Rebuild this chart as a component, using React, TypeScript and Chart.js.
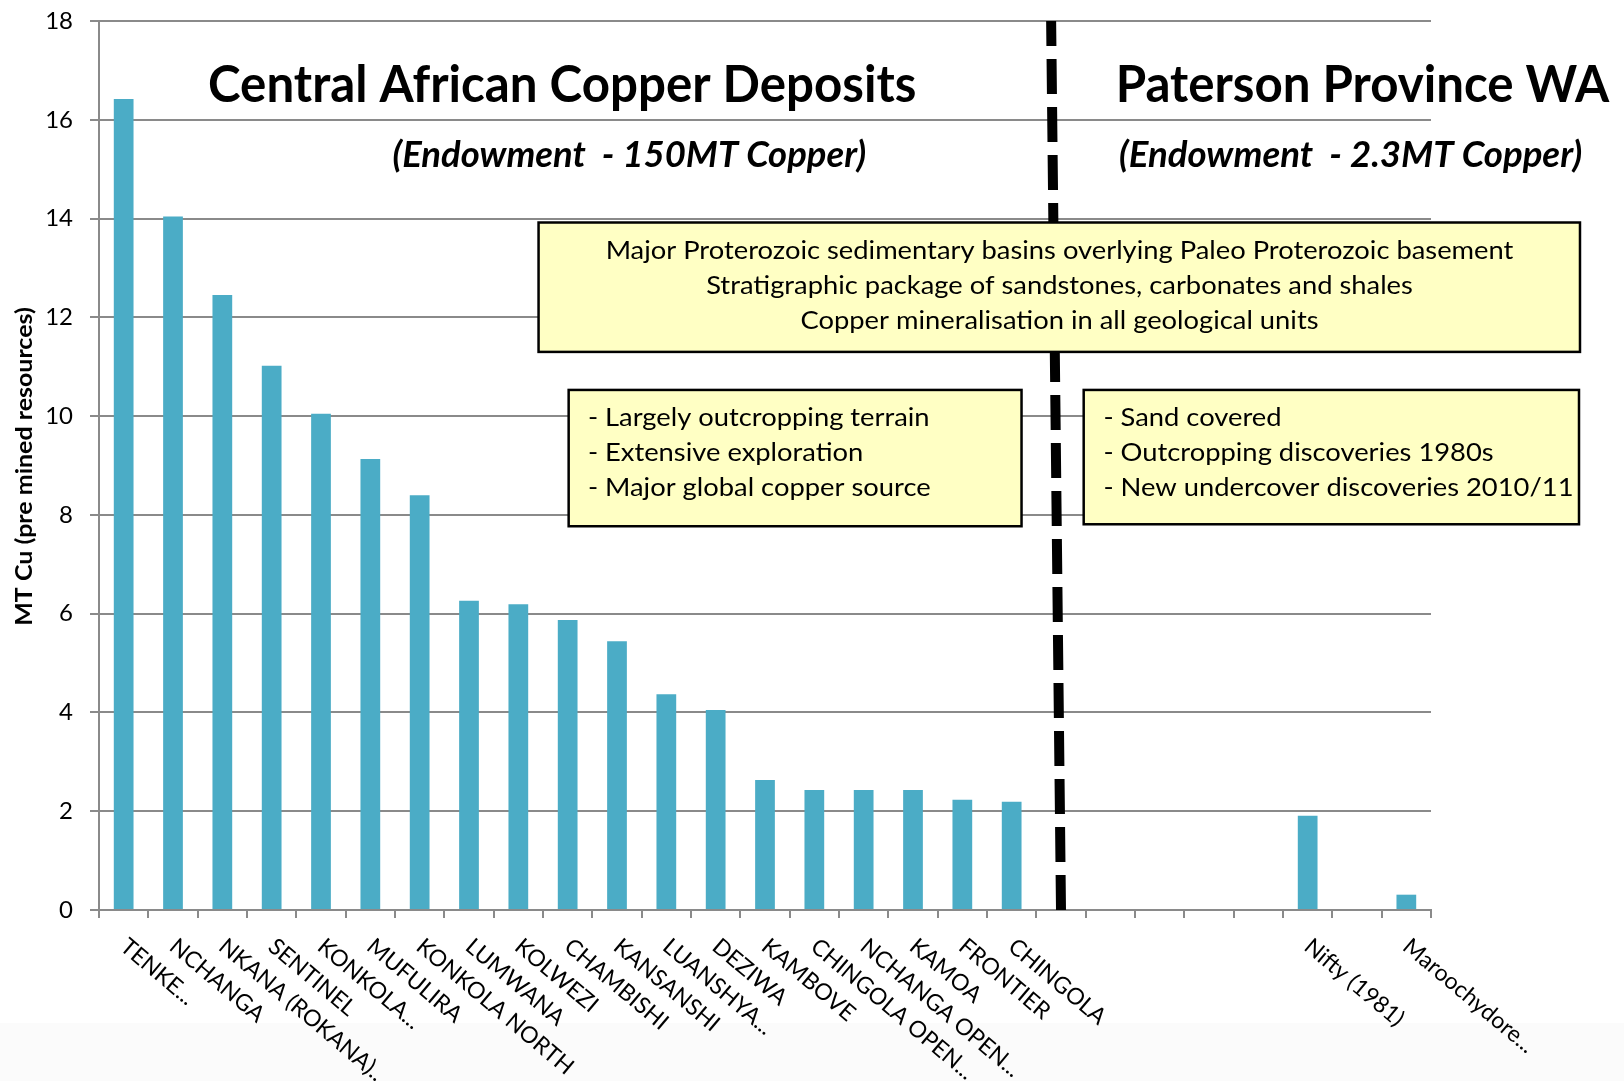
import React, { useEffect, useRef } from 'react';
import { Chart, registerables } from 'chart.js';

Chart.register(...registerables);

// ---------- data ----------
const categories: string[] = [
  'TENKE...', 'NCHANGA', 'NKANA (ROKANA)...', 'SENTINEL', 'KONKOLA...', 'MUFULIRA',
  'KONKOLA NORTH', 'LUMWANA', 'KOLWEZI', 'CHAMBISHI', 'KANSANSHI', 'LUANSHYA...',
  'DEZIWA', 'KAMBOVE', 'CHINGOLA OPEN...', 'NCHANGA OPEN...', 'KAMOA', 'FRONTIER',
  'CHINGOLA', '', '', '', '', '', 'Nifty (1981)', '', 'Maroochydore...',
];

const copperMt: (number | null)[] = [
  16.42, 14.04, 12.45, 11.02, 10.05, 9.13,
  8.40, 6.26, 6.19, 5.87, 5.44, 4.37,
  4.05, 2.63, 2.43, 2.43, 2.43, 2.23,
  2.19, null, null, null, null, null, 1.91, null, 0.31,
];

const yTickValues: number[] = [0, 2, 4, 6, 8, 10, 12, 14, 16, 18];

const yAxisTitle = 'MT Cu (pre mined resources)';
const titleLeft = 'Central African Copper Deposits';
const subtitleLeft = '(Endowment  - 150MT Copper)';
const titleRight = 'Paterson Province WA';
const subtitleRight = '(Endowment  - 2.3MT Copper)';

const sharedBoxLines: string[] = [
  'Major Proterozoic sedimentary basins overlying Paleo Proterozoic basement',
  'Stratigraphic package of sandstones, carbonates and shales',
  'Copper mineralisation in all geological units',
];
const africaBoxLines: string[] = [
  '- Largely outcropping terrain',
  '- Extensive exploration',
  '- Major global copper source',
];
const patersonBoxLines: string[] = [
  '- Sand covered',
  '- Outcropping discoveries 1980s',
  '- New undercover discoveries 2010/11',
];

// ---------- styling ----------
const FONT = 'Lato, "Open Sans", sans-serif';
const BAR = '#4BACC6';
const GRID = '#8a8a8a';
const BOX_FILL = '#FFFFC4';

function fitText(
  ctx: CanvasRenderingContext2D, text: string, font: string,
  x: number, y: number, width: number, align: CanvasTextAlign,
) {
  ctx.save();
  ctx.font = font;
  const w = ctx.measureText(text).width;
  const s = width / w;
  ctx.translate(x, y);
  ctx.scale(s, 1);
  ctx.textAlign = align;
  ctx.textBaseline = 'alphabetic';
  ctx.fillStyle = '#000';
  ctx.fillText(text, 0, 0);
  ctx.restore();
}

const overlayPlugin = {
  id: 'overlay',
  afterDraw(chart: any) {
    const ctx: CanvasRenderingContext2D = chart.ctx;
    const xs = chart.scales.x;
    const ys = chart.scales.y;
    const X = (i: number) => xs.getPixelForValue(i);
    const Y = (v: number) => ys.getPixelForValue(v);
    const U = X(1) - X(0);
    const area = chart.chartArea;

    // dashed divider
    ctx.save();
    ctx.strokeStyle = '#000';
    ctx.lineWidth = 10;
    ctx.setLineDash([35, 13]);
    ctx.lineCap = 'butt';
    ctx.beginPath();
    ctx.moveTo(X(19.0), Y(0));
    ctx.lineTo(X(18.8), Y(18));
    ctx.stroke();
    ctx.restore();

    // boxes
    const box = (x0: number, x1: number, vTop: number, vBot: number) => {
      ctx.save();
      ctx.fillStyle = BOX_FILL;
      ctx.strokeStyle = '#000';
      ctx.lineWidth = 2.5;
      const l = X(x0), r = X(x1), t = Y(vTop), b = Y(vBot);
      ctx.fillRect(l, t, r - l, b - t);
      ctx.strokeRect(l, t, r - l, b - t);
      ctx.restore();
    };
    box(8.41, 29.52, 13.92, 11.30);
    box(9.02, 18.2, 10.53, 7.77);
    box(19.46, 29.5, 10.53, 7.81);

    // box texts with common condensation
    const boxFont = `25px ${FONT}`;
    ctx.save();
    ctx.font = boxFont;
    const boxScale = (18.4 * U) / ctx.measureText(sharedBoxLines[0]).width;
    ctx.restore();
    const drawLine = (text: string, x: number, v: number, align: CanvasTextAlign) => {
      ctx.save();
      ctx.font = boxFont;
      ctx.translate(x, Y(v));
      ctx.scale(boxScale, 1);
      ctx.textAlign = align;
      ctx.textBaseline = 'middle';
      ctx.fillStyle = '#000';
      ctx.fillText(text, 0, 0);
      ctx.restore();
    };
    const sharedV = [13.35, 12.63, 11.92];
    sharedBoxLines.forEach((t, k) => drawLine(t, X(18.97), sharedV[k], 'center'));
    const sideV = [9.97, 9.26, 8.54];
    africaBoxLines.forEach((t, k) => drawLine(t, X(9.41), sideV[k], 'left'));
    patersonBoxLines.forEach((t, k) => drawLine(t, X(19.86), sideV[k], 'left'));

    // titles
    fitText(ctx, titleLeft, `bold 51px ${FONT}`, X(8.89), Y(16.37), 14.36 * U, 'center');
    fitText(ctx, subtitleLeft, `italic bold 36px ${FONT}`, X(10.25), Y(15.05), 9.6 * U, 'center');
    fitText(ctx, titleRight, `bold 51px ${FONT}`, X(25.11), Y(16.37), 10.0 * U, 'center');
    fitText(ctx, subtitleRight, `italic bold 36px ${FONT}`, X(24.87), Y(15.05), 9.39 * U, 'center');

    // y axis title
    ctx.save();
    ctx.font = `bold 22px ${FONT}`;
    const tw = ctx.measureText(yAxisTitle).width;
    ctx.translate(area.left - 67, Y(8.98));
    ctx.rotate(-Math.PI / 2);
    ctx.scale((6.45 * (Y(0) - Y(1))) / tw, 1);
    ctx.textAlign = 'center';
    ctx.textBaseline = 'alphabetic';
    ctx.fillStyle = '#000';
    ctx.fillText(yAxisTitle, 0, 0);
    ctx.restore();

    // x category labels (rotated, reading downward)
    const ang = (40 * Math.PI) / 180;
    categories.forEach((lab, i) => {
      if (!lab) return;
      ctx.save();
      ctx.font = `23px ${FONT}`;
      ctx.translate(X(i) - 5, Y(0) + 39);
      ctx.rotate(ang);
      ctx.textAlign = 'left';
      ctx.textBaseline = 'alphabetic';
      ctx.fillStyle = '#000';
      ctx.fillText(lab, 0, 0);
      ctx.restore();
    });
  },
};

export default function App() {
  const ref = useRef<HTMLCanvasElement | null>(null);

  useEffect(() => {
    if (!ref.current) return;
    Chart.defaults.font.family = FONT;
    const chart = new Chart(ref.current, {
      type: 'bar',
      data: {
        labels: categories,
        datasets: [
          {
            data: copperMt as any,
            backgroundColor: BAR,
            borderWidth: 0,
            barPercentage: 0.4,
            categoryPercentage: 1,
          },
        ],
      },
      options: {
        animation: false,
        responsive: true,
        maintainAspectRatio: false,
        layout: { padding: { top: 21, right: 193, left: 0, bottom: 0 } },
        plugins: { legend: { display: false }, tooltip: { enabled: false }, title: { display: false } },
        scales: {
          x: {
            type: 'category',
            offset: true,
            grid: { offset: true, drawOnChartArea: false, drawTicks: true, tickLength: 8, color: GRID, lineWidth: 2 },
            border: { display: true, color: GRID, width: 2 },
            ticks: { display: false },
            afterFit: (s: any) => { s.height = 171; },
          },
          y: {
            min: 0,
            max: 18,
            afterBuildTicks: (s: any) => { s.ticks = yTickValues.map((v) => ({ value: v })); },
            ticks: { font: { family: FONT, size: 24 }, color: '#000', padding: 17 },
            grid: { color: GRID, lineWidth: 2, tickLength: 9 },
            border: { display: true, color: GRID, width: 2 },
            afterFit: (s: any) => { s.width = 99; s.paddingTop = 0; s.paddingBottom = 0; },
          },
        },
      } as any,
      plugins: [overlayPlugin],
    });
    return () => chart.destroy();
  }, []);

  return (
    <div
      style={{
        position: 'fixed', left: 0, top: 0, width: '1624px', height: '1081px',
        background: 'linear-gradient(to bottom, #ffffff 0px, #ffffff 1023px, #fbfbfb 1023px, #fbfbfb 1081px)',
      }}
    >
      <canvas ref={ref} />
    </div>
  );
}
